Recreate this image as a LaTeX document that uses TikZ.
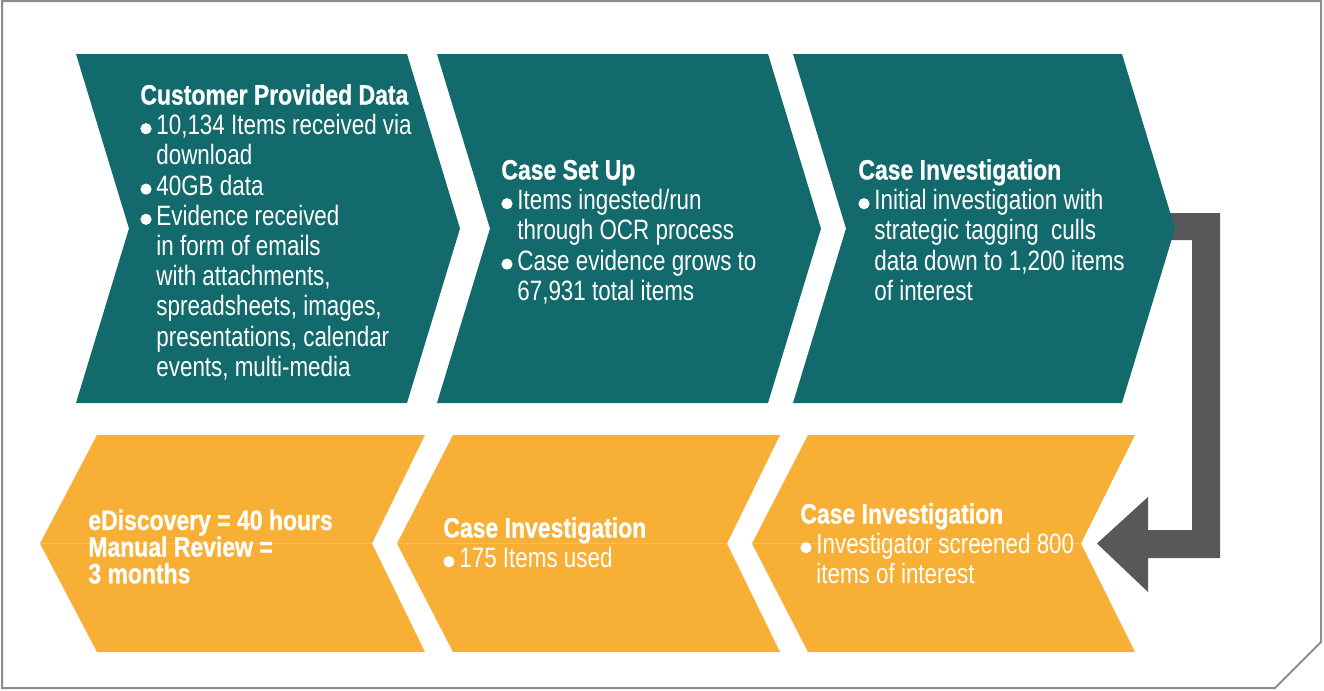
\documentclass[tikz,border=0pt]{standalone}
\usepackage{fontspec}
\setmainfont{Liberation Sans}[FakeStretch=0.8, BoldFeatures={FakeStretch=0.82,FakeBold=0.8}]
\definecolor{teal1}{HTML}{126A6C}
\definecolor{orng}{HTML}{F7AF35}
\definecolor{orngl}{HTML}{F9C060}
\definecolor{arrowgray}{HTML}{58585B}
\definecolor{framegray}{HTML}{8C8C8C}
\newcommand\bul{\makebox[8pt][l]{\tikz[x=1pt,y=1pt,baseline=0pt]\fill[white] (2.8,3) circle[radius=2.8pt];}}
\newcommand\ind{\hspace*{8pt}}
\tikzset{
  tealchev/.style={fill=teal1},
  orngchev/.style={fill=orng},
  midline/.style={draw=orngl, line width=0.5pt},
  txt/.style={anchor=base west, inner sep=0pt, align=left, text=white,
    font=\fontsize{14}{15.1}\selectfont},
}
\begin{document}
\begin{tikzpicture}[x=0.5pt,y=-0.5pt]
\useasboundingbox (0,0) rectangle (1324,691);
% frame
\draw[framegray, line width=1pt] (2,1) -- (1321,1) -- (1321,642) -- (1275,688) -- (2,688) -- cycle;
% bottom row (orange, pointing left)
\fill[orngchev] (40,543.5) -- (97,435) -- (425,435) -- (372,543.5) -- (425,652) -- (97,652) -- cycle;
\fill[orngchev] (397,543.5) -- (453,435) -- (780,435) -- (727,543.5) -- (780,652) -- (453,652) -- cycle;
\fill[orngchev] (752,543.5) -- (808,435) -- (1135,435) -- (1081,543.5) -- (1135,652) -- (808,652) -- cycle;
\draw[midline] (40,543.5) -- (372,543.5);
\draw[midline] (397,543.5) -- (727,543.5);
\draw[midline] (752,543.5) -- (1081,543.5);
% gray elbow arrow
\fill[arrowgray] (1150,213) -- (1220,213) -- (1220,558) -- (1148,558) -- (1148,592) -- (1097,543.5)
  -- (1148,497) -- (1148,530) -- (1192,530) -- (1192,240) -- (1150,240) -- cycle;
% top row (teal, pointing right)
\fill[tealchev] (76,54) -- (407,54) -- (460,228.5) -- (407,403) -- (76,403) -- (129,228.5) -- cycle;
\fill[tealchev] (437,54) -- (768,54) -- (821,228.5) -- (768,403) -- (437,403) -- (490,228.5) -- cycle;
\fill[tealchev] (793,54) -- (1122,54) -- (1175,228.5) -- (1122,403) -- (793,403) -- (846,228.5) -- cycle;
% texts (anchored at the baseline of their last line)
\node[txt] (t1) at (140,376.3) {{\bfseries Customer Provided Data}\\
\bul 10,134 Items received via\\
\ind download\\
\bul 40GB data\\
\bul Evidence received\\
\ind in form of emails\\
\ind with attachments,\\
\ind spreadsheets, images,\\
\ind presentations, calendar\\
\ind events, multi-media};
\node[txt] (t2) at (501,300.3) {{\bfseries Case Set Up}\\
\bul Items ingested/run\\
\ind through OCR process\\
\bul Case evidence grows to\\
\ind 67,931 total items};
\node[txt] (t3) at (858,300.3) {{\bfseries Case Investigation}\\
\bul Initial investigation with\\
\ind strategic tagging\ \ culls\\
\ind data down to 1,200 items\\
\ind of interest};
\node[txt, font=\fontsize{14}{13.35}\selectfont\bfseries] (b1) at (88,583.3) {eDiscovery = 40 hours\\
Manual Review =\\
3 months};
\node[txt] (b2) at (443,567.7) {{\bfseries Case Investigation}\\
\bul 175 Items used};
\node[txt] (b3) at (800,583.9) {{\bfseries Case Investigation}\\
\bul Investigator screened 800\\
\ind items of interest};
\end{tikzpicture}
\end{document}
